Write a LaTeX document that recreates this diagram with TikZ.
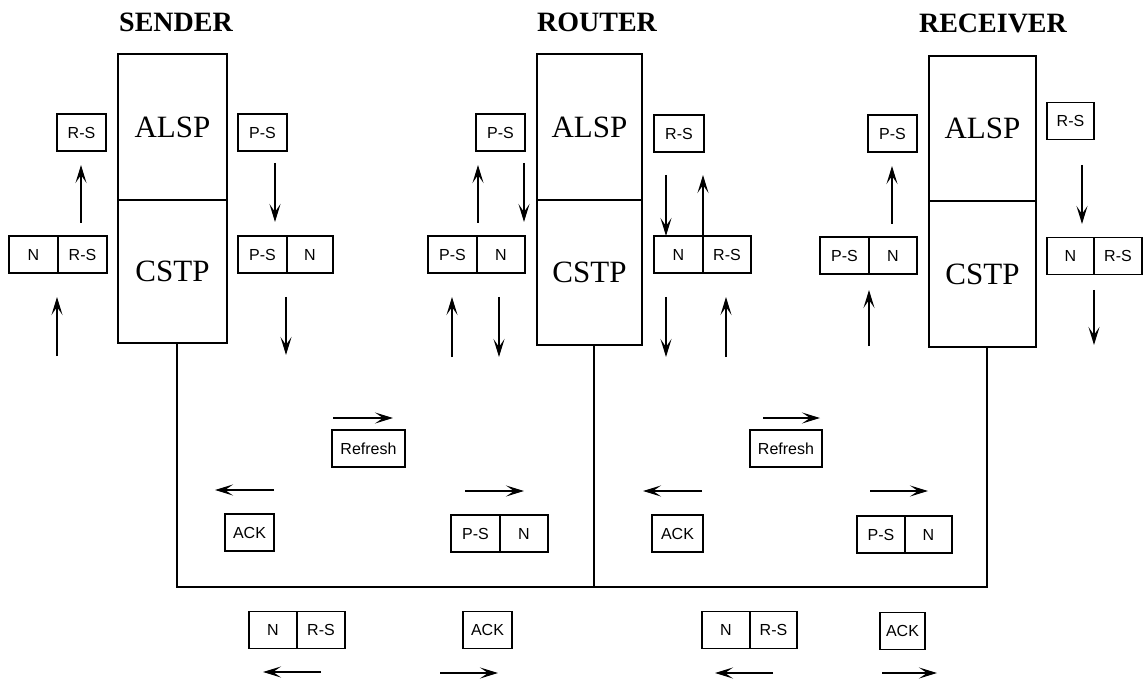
\documentclass[tikz,border=0pt]{standalone}
\usepackage{fontspec}
\setmainfont{Liberation Serif}
\newfontfamily\lblfont{Liberation Sans}
\usetikzlibrary{arrows.meta}
\tikzset{
  x=1pt, y=-1pt,
  ln/.style={line width=1.6pt},
  box/.style={draw, line width=1.5pt, minimum height=37pt, inner sep=0pt, font=\lblfont\fontsize{16}{16}\selectfont},
  layer/.style={draw, line width=1.6pt, inner sep=0pt, font=\fontsize{31}{31}\selectfont},
  ttl/.style={font=\bfseries\fontsize{28}{28}\selectfont},
  arr/.style={line width=1.6pt, -{Stealth[length=18pt,width=11pt,inset=8pt]}}
}
\begin{document}
\begin{tikzpicture}
\useasboundingbox (0,0) rectangle (1144,687);
% ---------- titles
\node[ttl] (tS) at (176,22) {SENDER};
\node[ttl] (tR) at (597,22) {ROUTER};
\node[ttl] (tC) at (993,23) {RECEIVER};
% ---------- stacks
\node[layer, minimum width=109pt, minimum height=146pt] (sA) at (172.5,127) {ALSP};
\node[layer, minimum width=109pt, minimum height=143pt] (sC) at (172.5,271.5) {CSTP};
\node[layer, minimum width=105pt, minimum height=146pt] (rA) at (589.5,127) {ALSP};
\node[layer, minimum width=105pt, minimum height=145pt] (rC) at (589.5,272.5) {CSTP};
\node[layer, minimum width=107pt, minimum height=145pt] (cA) at (982.5,128.5) {ALSP};
\node[layer, minimum width=107pt, minimum height=146pt] (cC) at (982.5,274) {CSTP};
% ---------- sender side boxes
\node[box, minimum width=49pt] (s1) at (81.5,132.5) {R-S};
\node[box, minimum width=49pt] (s2n) at (33.5,254.5) {N};
\node[box, minimum width=49pt] (s2r) at (82.5,254.5) {R-S};
\node[box, minimum width=49pt] (s3) at (262.5,132.5) {P-S};
\node[box, minimum width=49pt] (s4p) at (262.5,254.5) {P-S};
\node[box, minimum width=46pt] (s4n) at (310,254.5) {N};
% ---------- router side boxes
\node[box, minimum width=49pt] (r1) at (500.5,132.5) {P-S};
\node[box, minimum width=49pt] (r2p) at (452.5,254.5) {P-S};
\node[box, minimum width=48pt] (r2n) at (501,254.5) {N};
\node[box, minimum width=50pt] (r3) at (679,133.5) {R-S};
\node[box, minimum width=49pt] (r4n) at (678.5,254.5) {N};
\node[box, minimum width=48pt] (r4r) at (727,254.5) {R-S};
% ---------- receiver side boxes
\node[box, minimum width=49pt] (c1) at (892.5,133.5) {P-S};
\node[box, minimum width=49pt] (c2p) at (844.5,255.5) {P-S};
\node[box, minimum width=48pt] (c2n) at (893,255.5) {N};
\node[box, minimum width=47pt] (c3) at (1070.5,121) {R-S};
\node[box, minimum width=47pt] (c4n) at (1070.5,256) {N};
\node[box, minimum width=48pt] (c4r) at (1118,256) {R-S};
% ---------- vertical arrows
\draw[arr] (81,223) coordinate (a1) -- (81,165) coordinate (b1);
\draw[arr] (57,356) coordinate (a2) -- (57,297) coordinate (b2);
\draw[arr] (275,163) coordinate (a3) -- (275,222) coordinate (b3);
\draw[arr] (286,297) coordinate (a4) -- (286,355) coordinate (b4);
\draw[arr] (478,223) coordinate (a5) -- (478,165) coordinate (b5);
\draw[arr] (524,163) coordinate (a6) -- (524,222) coordinate (b6);
\draw[arr] (452,357) coordinate (a7) -- (452,297) coordinate (b7);
\draw[arr] (499,297) coordinate (a8) -- (499,357) coordinate (b8);
\draw[arr] (666,175) coordinate (a9) -- (666,236) coordinate (b9);
\draw[arr] (703,236) coordinate (a10) -- (703,175) coordinate (b10);
\draw[arr] (666,297) coordinate (a11) -- (666,357) coordinate (b11);
\draw[arr] (726,357) coordinate (a12) -- (726,297) coordinate (b12);
\draw[arr] (892,224) coordinate (a13) -- (892,166) coordinate (b13);
\draw[arr] (869,346) coordinate (a14) -- (869,290) coordinate (b14);
\draw[arr] (1082,165) coordinate (a15) -- (1082,224) coordinate (b15);
\draw[arr] (1094,290) coordinate (a16) -- (1094,345) coordinate (b16);
% ---------- network lines
\coordinate (bl) at (177,587);
\coordinate (bm) at (594,587);
\coordinate (br) at (987,587);
\draw[ln] (sC.south -| bl) -- (bl) -- (br) -- (cC.south -| br);
\draw[ln] (rC.south -| bm) -- (bm);
% ---------- lower messages
\node[box, minimum width=73pt] (rf1) at (368.5,448.5) {Refresh};
\draw[arr] (333,418) coordinate (h1) -- (393,418) coordinate (k1);
\node[box, minimum width=49pt] (ak1) at (249.5,532.5) {ACK};
\draw[arr] (274,490) coordinate (h2) -- (215,490) coordinate (k2);
\node[box, minimum width=49pt] (m1p) at (475.5,533.5) {P-S};
\node[box, minimum width=48pt] (m1n) at (524,533.5) {N};
\draw[arr] (465,491) coordinate (h3) -- (524,491) coordinate (k3);
\node[box, minimum width=48pt] (m2n) at (273,630) {N};
\node[box, minimum width=48pt] (m2r) at (321,630) {R-S};
\draw[arr] (321,672) coordinate (h4) -- (263,672) coordinate (k4);
\node[box, minimum width=49pt] (ak2) at (487.5,630) {ACK};
\draw[arr] (440,673) coordinate (h5) -- (498,673) coordinate (k5);
\node[box, minimum width=72pt] (rf2) at (786,448.5) {Refresh};
\draw[arr] (763,418) coordinate (h6) -- (820,418) coordinate (k6);
\node[box, minimum width=51pt] (ak3) at (677.5,533.5) {ACK};
\draw[arr] (702,491) coordinate (h7) -- (643,491) coordinate (k7);
\node[box, minimum width=48pt] (m3p) at (881,534.5) {P-S};
\node[box, minimum width=47pt] (m3n) at (928.5,534.5) {N};
\draw[arr] (870,491) coordinate (h8) -- (928,491) coordinate (k8);
\node[box, minimum width=48pt] (m4n) at (726,630) {N};
\node[box, minimum width=47pt] (m4r) at (773.5,630) {R-S};
\draw[arr] (773,673) coordinate (h9) -- (715,673) coordinate (k9);
\node[box, minimum width=45pt] (ak4) at (902.5,631) {ACK};
\draw[arr] (882,673) coordinate (h10) -- (937,673) coordinate (k10);
\end{tikzpicture}
\end{document}
